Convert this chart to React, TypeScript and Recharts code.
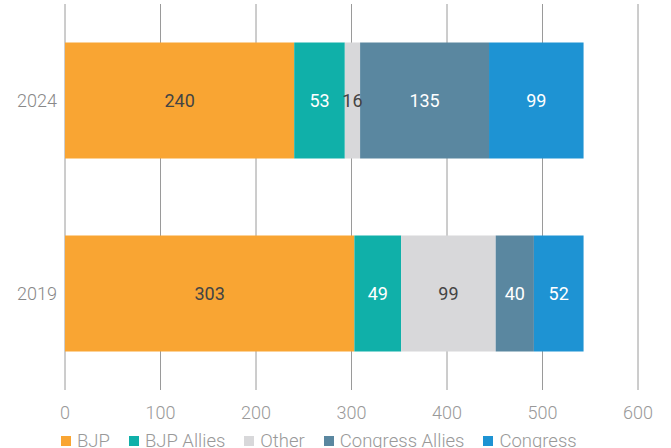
import React from "react";
import { BarChart, Bar, XAxis, YAxis, CartesianGrid, LabelList } from "recharts";

const years = ["2024", "2019"];
const bjp = [240, 303];
const bjpAllies = [53, 49];
const other = [16, 99];
const congressAllies = [135, 40];
const congress = [99, 52];
const xTicks = [0, 100, 200, 300, 400, 500, 600];

const series = [
  { key: "bjp", name: "BJP", color: "#F9A533", label: "#444" },
  { key: "bjpAllies", name: "BJP Allies", color: "#10B0A9", label: "#fff" },
  { key: "other", name: "Other", color: "#D8D8DA", label: "#444" },
  { key: "congressAllies", name: "Congress Allies", color: "#5A87A0", label: "#fff" },
  { key: "congress", name: "Congress", color: "#1E93D3", label: "#fff" },
];

const data = years.map((year, i) => ({
  year,
  bjp: bjp[i],
  bjpAllies: bjpAllies[i],
  other: other[i],
  congressAllies: congressAllies[i],
  congress: congress[i],
}));

const font = "Roboto, sans-serif";

const App = () => {
  return (
    <div style={{ position: "absolute", left: 0, top: 0, width: 671, height: 448, background: "#fff", overflow: "hidden", fontFamily: font }}>
      <BarChart
        width={671}
        height={448}
        data={data}
        layout="vertical"
        margin={{ top: 4, right: 33, bottom: 0, left: 0 }}
        barCategoryGap="20%"
      >
        <CartesianGrid horizontal={false} stroke="#9a9a9a" />
        <XAxis
          type="number"
          domain={[0, 600]}
          ticks={xTicks}
          axisLine={false}
          tickLine={false}
          height={58}
          tickMargin={10}
          tick={{ fontSize: 18, fill: "#999", fontFamily: font, fontWeight: 300 }}
        />
        <YAxis
          type="category"
          dataKey="year"
          width={65}
          axisLine={false}
          tickLine={false}
          tickMargin={2}
          tick={{ fontSize: 18, fill: "#888", fontFamily: font, fontWeight: 300 }}
        />
        {series.map((s) => (
          <Bar key={s.key} dataKey={s.key} stackId="a" fill={s.color} isAnimationActive={false}>
            <LabelList
              dataKey={s.key}
              position="center"
              fill={s.label}
              style={{ fontSize: 18, fontFamily: font, fontWeight: 400 }}
            />
          </Bar>
        ))}
      </BarChart>
      <div style={{ position: "absolute", left: 61, top: 430, display: "flex", alignItems: "center", fontSize: 18.5, color: "#999", fontWeight: 300, whiteSpace: "nowrap" }}>
        {series.map((s) => (
          <div key={s.key} style={{ display: "flex", alignItems: "center", marginRight: 19 }}>
            <span style={{ width: 10, height: 10, background: s.color, marginRight: 6, display: "inline-block" }} />
            <span>{s.name}</span>
          </div>
        ))}
      </div>
    </div>
  );
};

export default App;
